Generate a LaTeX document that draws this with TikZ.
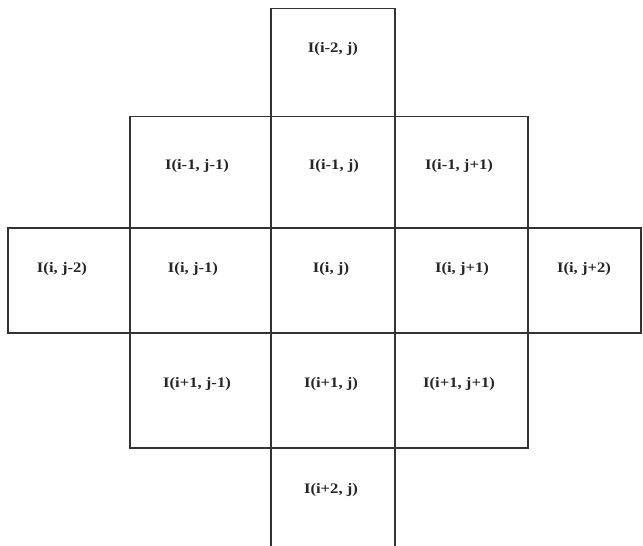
\documentclass[tikz,border=0pt]{standalone}
\usepackage{fontspec}
\setmainfont{Liberation Serif}
\begin{document}
\begin{tikzpicture}[x=1pt,y=-1pt,
  cell/.style={draw=black!80,line width=1.1pt},
  lab/.style={inner sep=0pt,font=\fontsize{14.5}{16}\selectfont\bfseries,text=black!85}]
\useasboundingbox (0,0) rectangle (643,546);
\newcommand\lbl[3]{\node[lab] (#1) at (#2) {\scalebox{1.15}[1]{#3}};}
% cells
\draw[cell] (271,8.5) rectangle (395,116.5);
\draw[cell] (130,116.5) rectangle (271,228);
\draw[cell] (271,116.5) rectangle (395,228);
\draw[cell] (395,116.5) rectangle (528,228);
\draw[cell] (8,228) rectangle (130,333);
\draw[cell] (130,228) rectangle (271,333);
\draw[cell] (271,228) rectangle (395,333);
\draw[cell] (395,228) rectangle (528,333);
\draw[cell] (528,228) rectangle (641,333);
\draw[cell] (130,333) rectangle (271,448);
\draw[cell] (271,333) rectangle (395,448);
\draw[cell] (395,333) rectangle (528,448);
\draw[cell] (271,448) rectangle (395,550);
% labels
\lbl{a}{333,49}{I(i-2, j)}
\lbl{b}{197,166}{I(i-1, j-1)}
\lbl{c}{334,166}{I(i-1, j)}
\lbl{d}{459,166}{I(i-1, j+1)}
\lbl{e}{62,269}{I(i, j-2)}
\lbl{f}{193,269}{I(i, j-1)}
\lbl{g}{331,269}{I(i, j)}
\lbl{h}{462,269}{I(i, j+1)}
\lbl{k}{584,269}{I(i, j+2)}
\lbl{l}{197,384}{I(i+1, j-1)}
\lbl{m}{331,384}{I(i+1, j)}
\lbl{n}{459,384}{I(i+1, j+1)}
\lbl{o}{331,490}{I(i+2, j)}
\end{tikzpicture}
\end{document}
